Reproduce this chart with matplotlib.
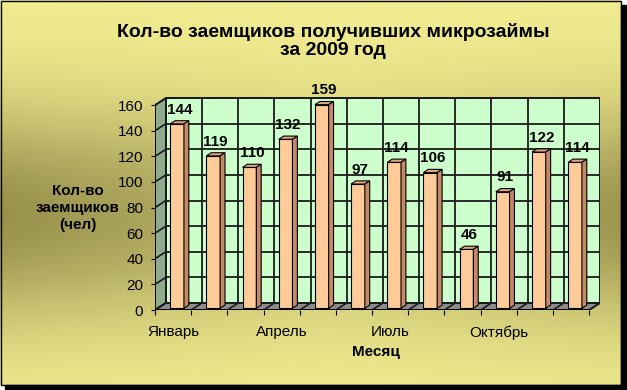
import numpy as np
import matplotlib
matplotlib.use('Agg')
import matplotlib.pyplot as plt
from matplotlib.patches import Polygon, Rectangle

plt.rcParams['font.family'] = ['Liberation Sans', 'DejaVu Sans']

months = ['Январь', 'Февраль', 'Март', 'Апрель', 'Май', 'Июнь',
          'Июль', 'Август', 'Сентябрь', 'Октябрь', 'Ноябрь', 'Декабрь']
borrowers = [144, 119, 110, 132, 159, 97, 114, 106, 46, 91, 122, 114]
yticks = [0, 20, 40, 60, 80, 100, 120, 140, 160]

W, H = 627, 390
fig = plt.figure(figsize=(W / 100, H / 100), dpi=100)

# background with frame and shadow
bg = fig.add_axes([0, 0, 1, 1])
bg.set_xlim(0, W)
bg.set_ylim(H, 0)
bg.axis('off')
yy, xx = np.mgrid[0:385, 0:621]
t = np.exp(-((yy - 215) / 110.0) ** 2) * (0.55 + 0.45 * np.abs(xx - 330) / 330)
light = np.array([0.95, 0.93, 0.57])
dark = np.array([0.60, 0.57, 0.30])
img = light + (dark - light) * t[..., None]
bg.imshow(img, extent=(0, 621, 385, 0), aspect='auto', zorder=0)
bg.add_patch(Rectangle((5, 385), 622, 5, color='black', zorder=1))
bg.add_patch(Rectangle((621, 5), 6, 385, color='black', zorder=1))
bg.add_patch(Rectangle((0.5, 0.5), 620.5, 384.5, fill=False, ec='black', lw=1, zorder=2))

# main chart axes (front plane)
ax = fig.add_axes([155 / W, (H - 310) / H, 445 / W, 213.8 / H])
ax.set_facecolor('none')
n = len(borrowers)
ax.set_xlim(0, n + 0.3)
ax.set_ylim(0, 167)
for s in ax.spines.values():
    s.set_visible(False)

dx, dy = 0.3, 5.5
top = yticks[-1]
gc = '#1a1a1a'

# walls and floor
ax.add_patch(Rectangle((dx, dy), n, top, fc='#CCFFCC', ec=gc, lw=1.3, zorder=1))
ax.add_patch(Polygon([(0, 0), (dx, dy), (dx, top + dy), (0, top)],
                     closed=True, fc='#8FAA8F', ec=gc, lw=1.2, zorder=1))
ax.add_patch(Polygon([(0, 0), (n, 0), (n + dx, dy), (dx, dy)],
                     closed=True, fc='#8C8C8C', ec=gc, lw=1.2, zorder=1))
for v in yticks:
    ax.plot([dx, n + dx], [v + dy, v + dy], color=gc, lw=1.3, zorder=2)
    ax.plot([0, dx], [v, v + dy], color=gc, lw=1.2, zorder=2)
for i in range(n + 1):
    ax.plot([i + dx, i + dx], [dy, top + dy], color=gc, lw=1.3, zorder=2)
    ax.plot([i, i + dx], [0, dy], color=gc, lw=1.2, zorder=2)
ax.plot([0, 0], [0, top], color='black', lw=1.2, zorder=2)
ax.plot([0, n], [0, 0], color='black', lw=1.3, zorder=2)

# 3d bars
f, b = 0.25, 0.45
x0 = np.arange(n) + 0.42
w = 0.38
y0 = f * dy
bdx, bdy = b * dx, b * dy
ax.bar(x0, borrowers, width=w, bottom=y0, align='edge', color='#FFCC99',
       edgecolor='black', linewidth=0.8, zorder=4)
for xi, v in zip(x0, borrowers):
    ax.add_patch(Polygon([(xi, v + y0), (xi + w, v + y0), (xi + w + bdx, v + y0 + bdy),
                          (xi + bdx, v + y0 + bdy)], closed=True,
                         fc='#E3A882', ec='black', lw=0.8, zorder=4))
    ax.add_patch(Polygon([(xi + w, y0), (xi + w + bdx, y0 + bdy), (xi + w + bdx, v + y0 + bdy),
                          (xi + w, v + y0)], closed=True,
                         fc='#C48A66', ec='black', lw=0.8, zorder=4))
    ax.annotate(str(v), (xi + w / 2 + bdx / 2, v + y0 + bdy), xytext=(0, 3),
                textcoords='offset points', ha='center', va='bottom',
                fontsize=11, fontweight='bold', zorder=5)

# ticks
ax.set_yticks(yticks)
ax.tick_params(axis='y', direction='out', length=3, pad=5.5, labelsize=11)
ax.set_xticks(range(n + 1))
ax.set_xticklabels([])
ax.tick_params(axis='x', which='major', direction='out', length=3.6)
ax.set_xticks(np.arange(0, n, 3) + 0.5, minor=True)
ax.set_xticklabels(months[::3], minor=True)
ax.tick_params(axis='x', which='minor', length=0, pad=11, labelsize=11)

# texts
fig.text(333 / W, 1 - 41 / H, 'Кол-во заемщиков получивших микрозаймы\nза 2009 год',
         ha='center', va='center', fontsize=14, fontweight='bold', linespacing=1.15)
fig.text(78 / W, 1 - 208 / H, 'Кол-во\nзаемщиков\n(чел)', ha='center', va='center',
         fontsize=11, fontweight='bold', linespacing=1.25)
fig.text(376 / W, 1 - 352 / H, 'Месяц', ha='center', va='center',
         fontsize=11, fontweight='bold')

fig.savefig('out.png', dpi=100)
